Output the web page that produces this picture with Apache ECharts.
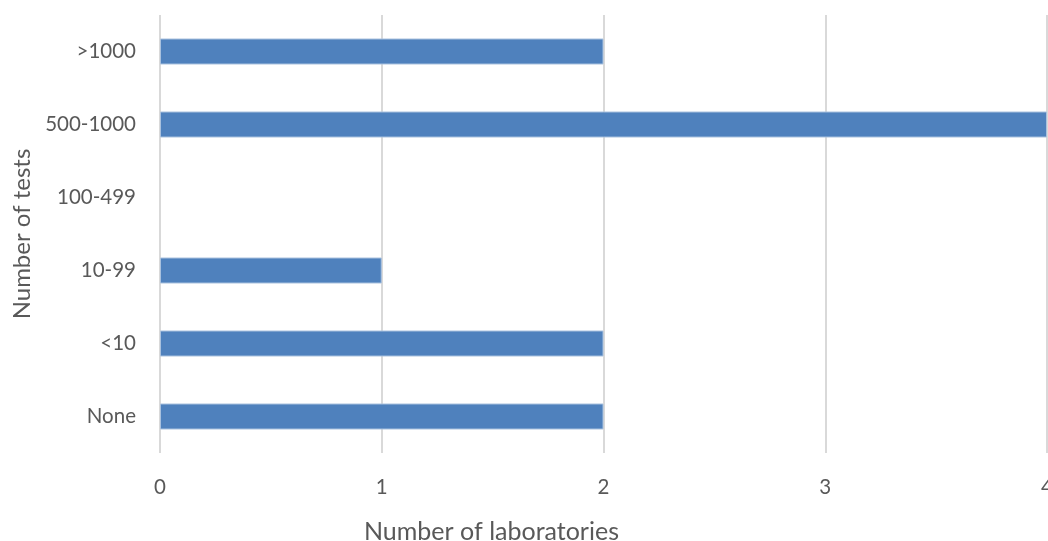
<!DOCTYPE html>
<html>
<head>
<meta charset="utf-8">
<script src="https://cdn.jsdelivr.net/npm/echarts@6/dist/echarts.min.js"></script>
<style>html,body{margin:0;padding:0;background:#fff;}#c{width:1048px;height:541px;}</style>
</head>
<body>
<div id="c"></div>
<script>
const categories = ['None', '<10', '10-99', '100-499', '500-1000', '>1000'];
const labCounts = [2, 2, 1, 0, 4, 2];
const xTicks = [0, 1, 2, 3, 4];

const chart = echarts.init(document.getElementById('c'), null, {renderer: 'canvas'});
const font = 'Lato';
const txt = '#595959';
chart.setOption({
  animation: false,
  grid: {left: 160, right: 1, top: 15, bottom: 88, containLabel: false, outerBoundsMode: 'none'},
  xAxis: {
    type: 'value', min: xTicks[0], max: xTicks[xTicks.length - 1], interval: 1,
    name: 'Number of laboratories', nameLocation: 'middle', nameGap: 66,
    nameTextStyle: {color: txt, fontFamily: font, fontSize: 25, padding: [0, 224, 0, 0]},
    axisLine: {show: false}, axisTick: {show: false},
    axisLabel: {color: txt, fontFamily: font, fontSize: 20.5, margin: 24},
    splitLine: {show: true, lineStyle: {color: '#d9d9d9', width: 2}}
  },
  yAxis: {
    type: 'category', data: categories,
    name: 'Number of tests', nameLocation: 'middle', nameGap: 126, nameRotate: 90,
    nameTextStyle: {color: txt, fontFamily: font, fontSize: 24},
    axisLine: {show: false}, axisTick: {show: false},
    axisLabel: {color: txt, fontFamily: font, fontSize: 20.5, margin: 24}
  },
  series: [{
    type: 'bar', barWidth: 26,
    data: labCounts.map(v => v === 0 ? {value: v, itemStyle: {borderWidth: 0}} : v),
    itemStyle: {color: '#4f81bd', borderColor: '#a9c1de', borderWidth: 1}
  }]
});
</script>
</body>
</html>
